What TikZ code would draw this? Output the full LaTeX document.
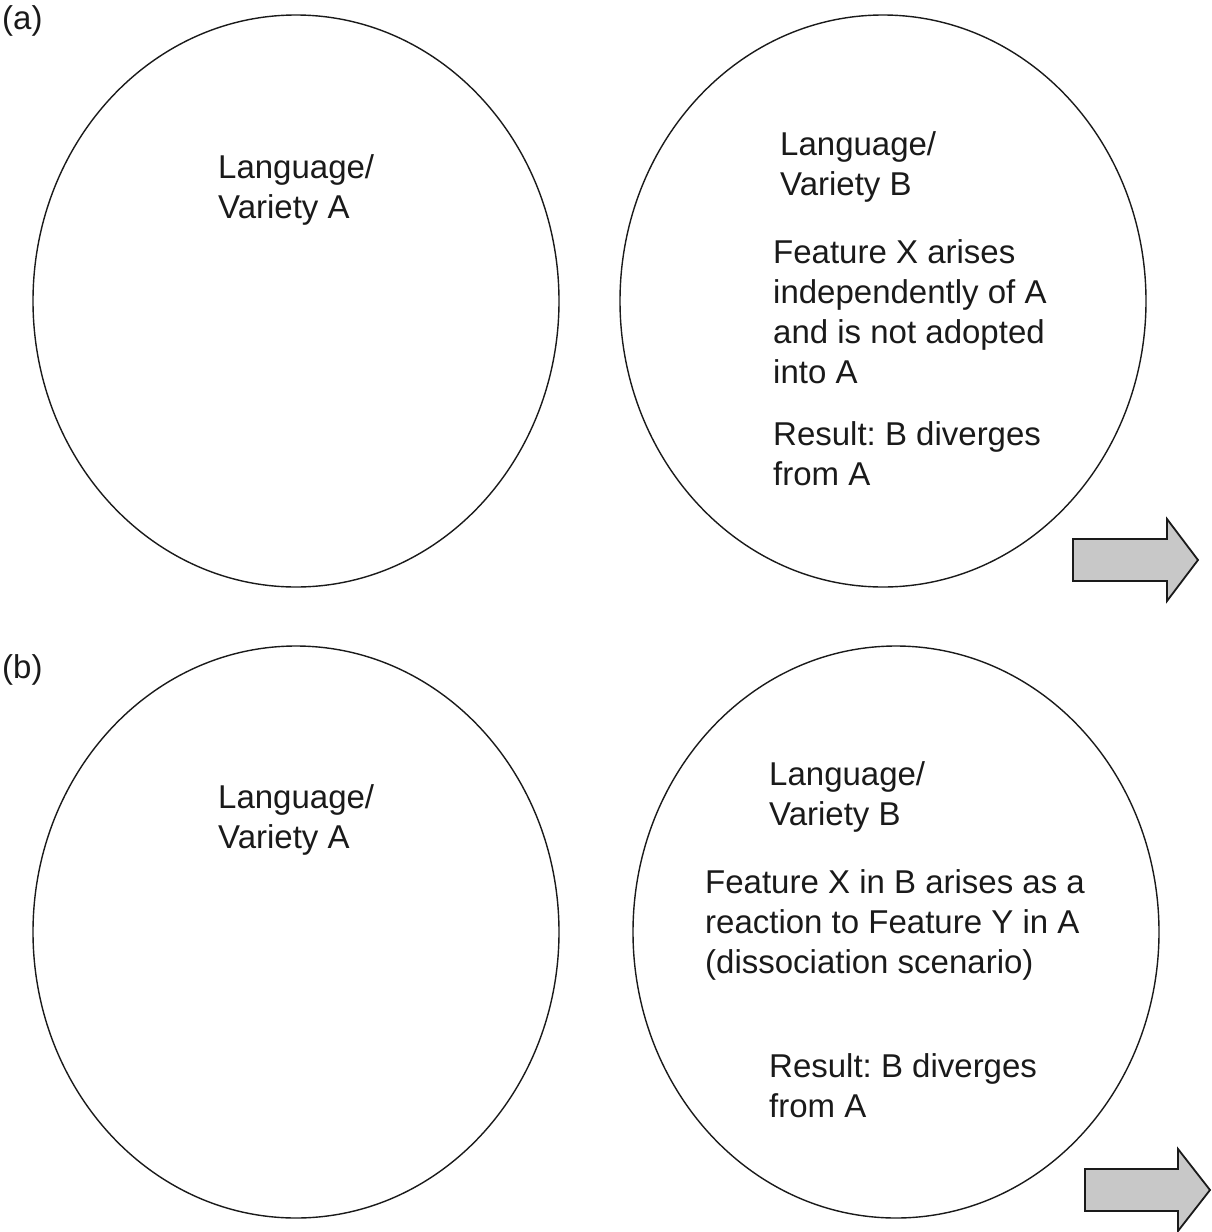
\documentclass[tikz,border=0pt]{standalone}
\usepackage{fontspec}
\setmainfont{Liberation Sans}
\frenchspacing
\definecolor{arrowgray}{HTML}{C8C8C8}
\definecolor{ink}{HTML}{1A1A1A}
\begin{document}
\begin{tikzpicture}[x=1pt,y=-1pt,
  bubble/.style={draw=ink,line width=1.4pt},
  txt/.style={anchor=base west,inner sep=0pt,align=left,text=ink,
    font=\fontsize{33}{40}\selectfont\frenchspacing},
  bigarrow/.style={draw=ink,fill=arrowgray,line width=1.8pt,line join=miter}]
\useasboundingbox (0,0) rectangle (1211,1232);
% panel (a)
\node[txt] (la) at (2,29) {(a)};
\draw[bubble] (296,301) ellipse [x radius=263, y radius=286];
\draw[bubble] (883,301) ellipse [x radius=263, y radius=286];
\node[txt] (aA) at (218,218) {Language/\\Variety A};
\node[txt] (aB) at (780,195) {Language/\\Variety B};
\node[txt] (aF) at (773,383) {Feature X arises\\independently of A\\and is not adopted\\into A};
\node[txt] (aR) at (773,485) {Result: B diverges\\from A};
\draw[bigarrow] (1073,539) -- (1167,539) -- (1167,519) -- (1198,560) -- (1167,601) -- (1167,581) -- (1073,581) -- cycle;
% panel (b)
\node[txt] (lb) at (2,678) {(b)};
\draw[bubble] (296,932) ellipse [x radius=263, y radius=286];
\draw[bubble] (896,932) ellipse [x radius=263, y radius=286];
\node[txt] (bA) at (218,848) {Language/\\Variety A};
\node[txt] (bB) at (769,825) {Language/\\Variety B};
\node[txt] (bF) at (705,973) {Feature X in B arises as a\\reaction to Feature Y in A\\(dissociation scenario)};
\node[txt] (bR) at (769,1117) {Result: B diverges\\from A};
\draw[bigarrow] (1085,1169) -- (1178,1169) -- (1178,1149) -- (1210,1190) -- (1178,1231) -- (1178,1211) -- (1085,1211) -- cycle;
\end{tikzpicture}
\end{document}
